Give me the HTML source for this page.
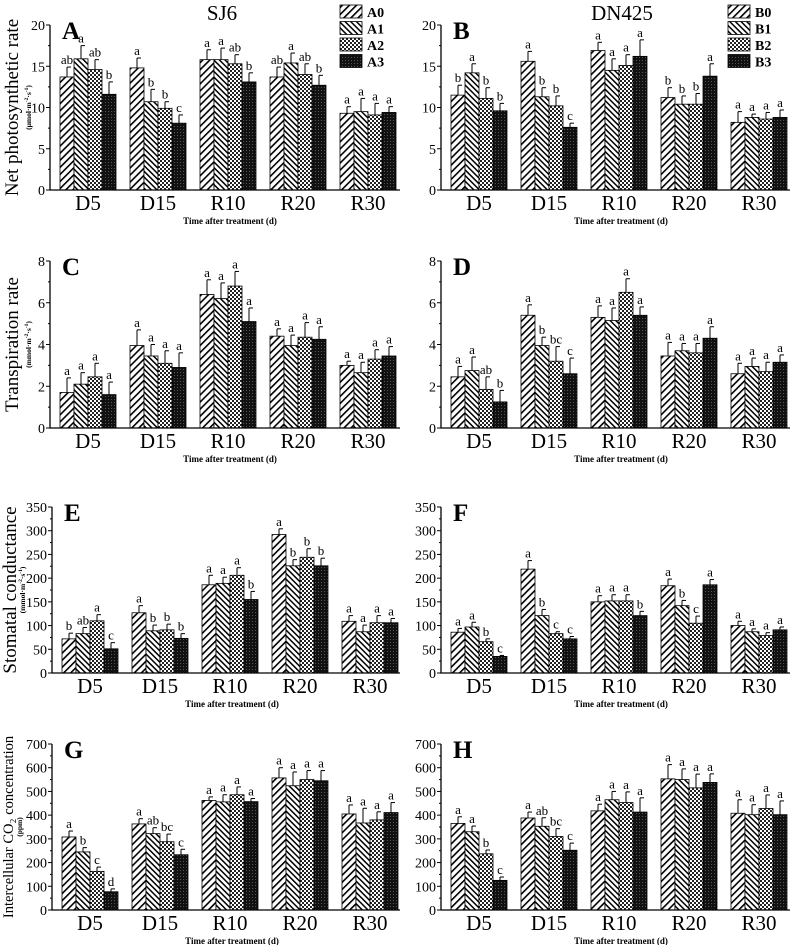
<!DOCTYPE html>
<html><head><meta charset="utf-8">
<style>
html,body{margin:0;padding:0;background:#fff;}
svg{display:block;font-family:"Liberation Serif",serif;}
</style></head>
<body>
<svg id="fig" width="790" height="945" viewBox="0 0 790 945" xmlns="http://www.w3.org/2000/svg">
<defs>
<pattern id="p0" width="5" height="5" patternUnits="userSpaceOnUse" patternTransform="rotate(45)"><rect width="5" height="5" fill="#fff"/><rect width="1.6" height="5" fill="#000"/></pattern>
<pattern id="p1" width="4" height="4" patternUnits="userSpaceOnUse" patternTransform="rotate(-45)"><rect width="4" height="4" fill="#fff"/><rect width="1.5" height="4" fill="#000"/></pattern>
<pattern id="p2" width="4" height="4" patternUnits="userSpaceOnUse"><rect width="4" height="4" fill="#fff"/><rect width="2" height="2" fill="#222"/><rect x="2" y="2" width="2" height="2" fill="#222"/></pattern>
<pattern id="p3" width="3" height="3" patternUnits="userSpaceOnUse"><rect width="3" height="3" fill="#111"/><rect width="1" height="1" fill="#555"/></pattern>
</defs>
<text x="222" y="20" font-size="21" text-anchor="middle">SJ6</text>
<text x="622" y="20" font-size="21" text-anchor="middle">DN425</text>
</svg>
<script>
const categories = ["D5","D15","R10","R20","R30"];
const seriesA = [[13.7,15.9,14.6,11.6],[14.8,10.7,9.9,8.1],[15.8,15.8,15.3,13.1],[13.7,15.4,14.0,12.7],[9.3,9.5,9.1,9.4]];
const errA = [[1.2,1.6,1.2,1.5],[1.2,1.5,0.8,1.0],[1.2,1.4,1.1,1.1],[1.2,1.2,1.3,1.2],[0.8,1.6,1.4,0.7]];
const letA = [["ab","a","ab","b"],["a","b","b","c"],["a","a","ab","b"],["ab","a","ab","b"],["a","a","a","a"]];
const seriesB = [[11.5,14.2,11.1,9.6],[15.6,11.3,10.2,7.6],[16.9,14.5,15.1,16.2],[11.2,10.4,10.4,13.8],[8.2,8.8,8.6,8.8]];
const errB = [[1.2,1.1,1.3,0.9],[1.2,1.1,1.2,0.5],[1.0,1.4,1.3,2.0],[1.2,1.0,1.3,1.5],[1.3,0.4,0.8,0.9]];
const letB = [["b","a","b","b"],["a","b","b","c"],["a","a","a","a"],["b","b","b","a"],["a","a","a","a"]];
const seriesC = [[1.7,2.1,2.45,1.6],[3.95,3.45,3.1,2.9],[6.4,6.2,6.8,5.1],[4.4,3.95,4.35,4.25],[3.0,2.65,3.3,3.45]];
const errC = [[0.7,0.55,0.65,0.6],[0.75,0.55,0.6,0.7],[0.7,0.75,0.7,0.65],[0.35,0.5,0.7,0.6],[0.2,0.5,0.45,0.45]];
const letC = [["a","a","a","a"],["a","a","a","a"],["a","a","a","a"],["a","a","a","a"],["a","a","a","a"]];
const seriesD = [[2.45,2.75,1.85,1.25],[5.4,3.95,3.2,2.6],[5.3,5.15,6.5,5.4],[3.45,3.7,3.6,4.3],[2.6,2.95,2.7,3.15]];
const errD = [[0.5,0.65,0.6,0.55],[0.5,0.4,0.7,0.75],[0.55,0.6,0.65,0.4],[0.65,0.35,0.45,0.55],[0.5,0.4,0.45,0.35]];
const letD = [["a","a","ab","b"],["a","b","bc","c"],["a","a","a","a"],["a","a","a","a"],["a","a","a","a"]];
const seriesE = [[72,83,110,51],[127,89,91,73],[186,189,206,155],[292,226,244,226],[109,87,106,106]];
const errE = [[12,13,13,13],[15,12,12,10],[20,13,16,17],[12,13,18,16],[12,14,15,9]];
const letE = [["b","ab","a","c"],["a","b","b","b"],["a","a","a","b"],["a","b","b","b"],["a","a","a","a"]];
const seriesF = [[86,97,66,35],[219,121,83,72],[150,152,152,121],[184,142,105,186],[100,87,79,91]];
const errF = [[8,10,6,2],[18,13,4,5],[13,13,13,9],[14,11,15,11],[9,6,6,6]];
const letF = [["a","a","b","c"],["a","b","c","c"],["a","a","a","b"],["a","b","c","a"],["a","a","a","a"]];
const seriesG = [[308,245,163,77],[363,322,288,233],[462,456,486,457],[557,524,550,545],[405,367,380,411]];
const errG = [[25,18,18,12],[22,25,32,23],[15,30,33,13],[43,58,38,43],[38,62,34,42]];
const letG = [["a","b","c","d"],["a","ab","bc","c"],["a","a","a","a"],["a","a","a","a"],["a","a","a","a"]];
const seriesH = [[365,330,237,125],[388,353,310,252],[418,465,453,413],[553,550,515,538],[408,402,428,402]];
const errH = [[28,24,16,14],[25,36,33,30],[28,35,45,60],[60,45,58,36],[57,42,57,58]];
const letH = [["a","a","b","c"],["a","ab","bc","c"],["a","a","a","a"],["a","a","a","a"],["a","a","a","a"]];
const ticksA = [0,5,10,15,20];
const ticksC = [0,2,4,6,8];
const ticksE = [0,50,100,150,200,250,300,350];
const ticksG = [0,100,200,300,400,500,600,700];
const legendA = ["A0","A1","A2","A3"];
const legendB = ["B0","B1","B2","B3"];

const NS="http://www.w3.org/2000/svg";
const svg=document.getElementById('fig');
function mk(tag,attrs,parent){const e=document.createElementNS(NS,tag);for(const k in attrs)e.setAttribute(k,attrs[k]);(parent||svg).appendChild(e);return e;}

function panel(o){
  const g=mk('g',{});
  
  
  const x0=o.x0, top=o.top, bot=o.bot, w=o.w, ymax=o.ticks[o.ticks.length-1];
  const yS=v=>bot-(v/ymax)*(bot-top);
  const bw=14, gs=70;
  const xS=(ci,si)=>x0+10+ci*gs+si*bw;
  o.data.forEach((grp,ci)=>{
    grp.forEach((v,si)=>{
      const x=xS(ci,si), y=yS(v), ye=yS(v+o.err[ci][si]);
      const ln=mk('line',{x1:x+bw/2,x2:x+bw/2,y1:y,y2:ye,stroke:'#000','stroke-width':1},g);
      
      
      const cap=mk('line',{x1:x+bw/2,x2:x+bw/2+4,y1:ye,y2:ye,stroke:'#000','stroke-width':1},g);
      
      
      const r=mk('rect',{x:x,y:y,width:bw,height:bot-y,fill:'url(#p'+si+')',stroke:'#000','stroke-width':0.8},g);
      
      
      const t=mk('text',{x:x+bw/2,y:ye-3,'font-size':13,'text-anchor':'middle'},g);
      t.textContent=o.letters[ci][si];
      
      
    });
    const cl=mk('text',{x:xS(ci,0)+28,y:bot+20,'font-size':21,'text-anchor':'middle'},g);
    cl.textContent=categories[ci];
    
    
  });
  const ax=mk('path',{d:`M${x0},${top} V${bot} H${x0+w}`,fill:'none',stroke:'#000','stroke-width':1.3},g);
  
  
  const step=o.ticks[1]-o.ticks[0];
  o.ticks.forEach((tv,i)=>{
    const y=yS(tv);
    mk('line',{x1:x0-4,x2:x0,y1:y,y2:y,stroke:'#000','stroke-width':1},g);
    if(i<o.ticks.length-1){const ym=yS(tv+step/2);mk('line',{x1:x0-2,x2:x0,y1:ym,y2:ym,stroke:'#000','stroke-width':1},g);}
    const t=mk('text',{x:x0-5,y:y+5,'font-size':14,'text-anchor':'end'},g);
    t.textContent=tv;
    
    
  });
  const pl=mk('text',{x:x0+12,y:top+14,'font-size':25,'font-weight':'bold'},g);
  pl.textContent=o.id;
  
  
  const xt=mk('text',{x:x0+180,y:bot+34,'font-size':9,'font-weight':'bold','text-anchor':'middle'},g);
  xt.textContent='Time after treatment (d)';
  
  
  if(o.ytitle){
    const cy=(top+bot)/2;
    const yt=mk('text',{x:o.ytx,y:cy,'font-size':o.yfs,'text-anchor':'middle',transform:`rotate(-90 ${o.ytx} ${cy})`},g);
    yt.textContent=o.ytitle;
    
    
    const ux=o.ux;
    const yu=mk('text',{x:ux,y:cy,'font-size':7.5,'font-weight':'bold','text-anchor':'middle',transform:`rotate(-90 ${ux} ${cy})`},g);
    yu.innerHTML=o.yunit;
    
    
  }
  if(o.legend){
    const lx=o.legendX;
    o.legend.forEach((n,i)=>{
      const y=5+i*16.5;
      const r=mk('rect',{x:lx,y:y,width:22,height:13,fill:'url(#p'+i+')',stroke:'#000','stroke-width':0.8},g);
      
      
      const t=mk('text',{x:lx+27,y:y+12,'font-size':14,'font-weight':'bold'},g);
      t.textContent=n;
      
      
    });
  }
}
const unitPh='(μmol·m<tspan dy="-3" font-size="5.5">-2</tspan><tspan dy="3">·s</tspan><tspan dy="-3" font-size="5.5">-1</tspan><tspan dy="3">)</tspan>';
const unitMm='(mmol·m<tspan dy="-3" font-size="5.5">-2</tspan><tspan dy="3">·s</tspan><tspan dy="-3" font-size="5.5">-1</tspan><tspan dy="3">)</tspan>';
panel({id:'A',x0:50,w:350,top:25,bot:190,ticks:ticksA,data:seriesA,err:errA,letters:letA,ytitle:'Net photosynthetic rate',yunit:unitPh,ytx:18,ux:31,yfs:19,legend:legendA,legendX:340});
panel({id:'B',x0:441,w:349,top:25,bot:190,ticks:ticksA,data:seriesB,err:errB,letters:letB,legend:legendB,legendX:728});
panel({id:'C',x0:50,w:350,top:261,bot:428,ticks:ticksC,data:seriesC,err:errC,letters:letC,ytitle:'Transpiration rate',yunit:unitMm,ytx:18,ux:31,yfs:19});
panel({id:'D',x0:441,w:349,top:261,bot:428,ticks:ticksC,data:seriesD,err:errD,letters:letD});
panel({id:'E',x0:52,w:348,top:507,bot:673,ticks:ticksE,data:seriesE,err:errE,letters:letE,ytitle:'Stomatal conductance',yunit:unitMm,ytx:16,ux:25,yfs:19});
panel({id:'F',x0:441,w:349,top:507,bot:673,ticks:ticksE,data:seriesF,err:errF,letters:letF});
panel({id:'G',x0:52,w:348,top:744,bot:910,ticks:ticksG,data:seriesG,err:errG,letters:letG,ytitle:'Intercellular CO₂ concentration',yunit:'(ppm)',ytx:13,ux:22,yfs:14.5});
panel({id:'H',x0:441,w:349,top:744,bot:910,ticks:ticksG,data:seriesH,err:errH,letters:letH});
</script>
</body></html>
